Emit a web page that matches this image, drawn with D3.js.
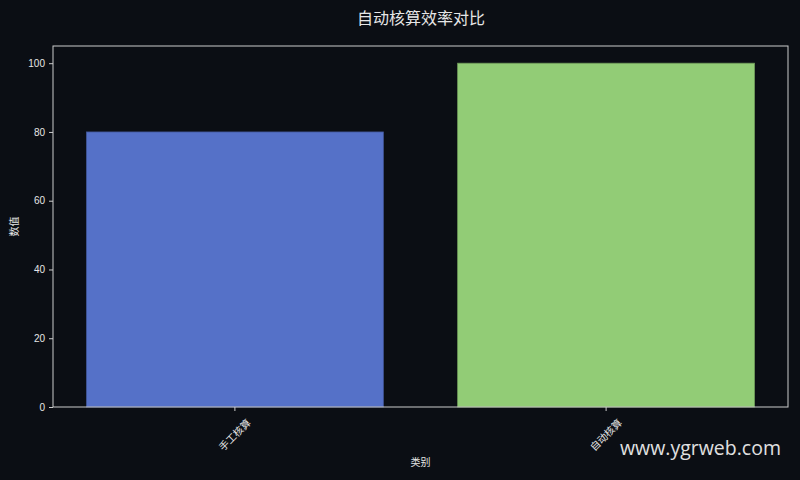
<!DOCTYPE html>
<meta charset="utf-8">
<title>自动核算效率对比</title>
<style>
    body { margin: 0; background: #0b0e14; }
    text { font-family: "Liberation Sans", "Noto Sans CJK SC", sans-serif; fill: #e6e6e6; }
    .axis path, .axis line { stroke: #cccccc; }
    .axis text { font-size: 10px; fill: #e6e6e6; }
</style>

<svg width="800" height="480"></svg>
<script src="https://d3js.org/d3.v7.min.js"></script>
<script>

    var categories = ["手工核算", "自动核算"];
    var values = [80, 100];
    var colors = ["#5571c8", "#92cc76"];
    var yTicks = [0, 20, 40, 60, 80, 100];

    var svg = d3.select("svg"),
        margin = {top: 46, right: 12, bottom: 73, left: 53},
        width = +svg.attr("width") - margin.left - margin.right,
        height = +svg.attr("height") - margin.top - margin.bottom;

    svg.append("rect").attr("width", 800).attr("height", 480).attr("fill", "#0b0e14");

    var g = svg.append("g").attr("transform", "translate(" + margin.left + "," + margin.top + ")");

    var x = d3.scaleBand()
        .domain(categories)
        .range([0, width])
        .paddingInner(0.2)
        .paddingOuter(0.09);

    var y = d3.scaleLinear()
        .domain([0, 105])
        .range([height, 0]);

    // bars
    g.selectAll(".bar")
        .data(values)
        .enter().append("rect")
            .attr("class", "bar")
            .attr("x", function(d, i) { return x(categories[i]); })
            .attr("y", function(d) { return y(d); })
            .attr("width", x.bandwidth())
            .attr("height", function(d) { return height - y(d); })
            .attr("fill", function(d, i) { return colors[i]; })
            .attr("stroke", function(d, i) { return d3.color(colors[i]).darker(0.8); })
            .attr("stroke-width", 0.8);

    // frame
    g.append("rect")
        .attr("width", width)
        .attr("height", height)
        .attr("fill", "none")
        .attr("stroke", "#cccccc")
        .attr("stroke-width", 1);

    var yAxis = g.append("g")
        .attr("class", "axis")
        .call(d3.axisLeft(y).tickValues(yTicks).tickSize(4).tickPadding(4));
    yAxis.select(".domain").remove();

    var xAxis = g.append("g")
        .attr("class", "axis")
        .attr("transform", "translate(0," + height + ")")
        .call(d3.axisBottom(x).tickSize(4).tickSizeOuter(0));
    xAxis.select(".domain").remove();
    xAxis.selectAll(".tick text")
        .attr("y", 0).attr("x", 0).attr("dy", "0.35em")
        .style("text-anchor", "middle")
        .attr("transform", "translate(0,28) rotate(-45)");

    // titles
    svg.append("text")
        .attr("x", 421).attr("y", 24)
        .attr("text-anchor", "middle")
        .style("font-size", "16px")
        .text("自动核算效率对比");

    svg.append("text")
        .attr("x", margin.left + width / 2).attr("y", 466)
        .attr("text-anchor", "middle")
        .style("font-size", "10px")
        .text("类别");

    svg.append("text")
        .attr("transform", "translate(18," + (margin.top + height / 2) + ") rotate(-90)")
        .attr("text-anchor", "middle")
        .style("font-size", "10px")
        .text("数值");

    svg.append("text")
        .attr("x", 781).attr("y", 455)
        .attr("text-anchor", "end")
        .style("font-family", "'Open Sans', 'Noto Sans', sans-serif")
        .style("font-size", "19.5px")
        .style("fill", "#e0e0e0")
        .text("www.ygrweb.com");

</script>
